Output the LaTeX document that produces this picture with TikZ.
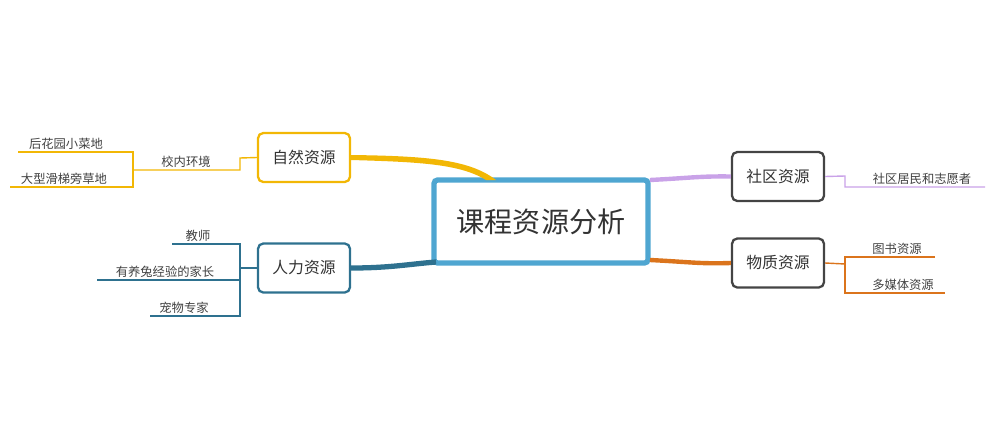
\documentclass[tikz,border=0pt]{standalone}
\usepackage{fontspec}
\usetikzlibrary{calc}
\setmainfont{Noto Sans CJK SC}
\begin{document}
\begin{tikzpicture}[x=0.02cm,y=-0.02cm]
\definecolor{cblue}{HTML}{4FA6D1}
\definecolor{cyel}{HTML}{F2B705}
\definecolor{cteal}{HTML}{2E718F}
\definecolor{cpur}{HTML}{C9A2E8}
\definecolor{corg}{HTML}{DB741C}
\definecolor{cgray}{HTML}{444444}
\tikzset{
 mainbox/.style={draw=cblue,line width=3pt,rounded corners=2pt,minimum width=214*0.02cm,minimum height=83*0.02cm,font=\fontsize{16}{18}\selectfont,text=black!80},
 subbox/.style={draw=#1,line width=1.3pt,rounded corners=3pt,minimum width=92*0.02cm,minimum height=49*0.02cm,font=\fontsize{9}{11}\selectfont,text=black!80},
 leaf/.style={font=\fontsize{7}{9}\selectfont,text=black!75,inner sep=1pt,anchor=south},
 ln/.style={draw=#1,line width=0.8pt}
}
\useasboundingbox (0,0) rectangle (1000,443);
\node[mainbox] (c) at (541,221.5) {课程资源分析};
\node[subbox=cyel] (n1) at (304,157.5) {自然资源};
\node[subbox=cteal] (n2) at (304,268) {人力资源};
\node[subbox=cgray] (n3) at (778,176.5) {社区资源};
\node[subbox=cgray] (n4) at (778,263) {物质资源};
% main connectors
\fill[cyel] ($(n1.east)+(0,-2.5)$) .. controls (430,156) and (470,160) .. (496,180) -- (486,180) .. controls (460,164) and (420,162) .. ($(n1.east)+(0,2.5)$) -- cycle;
\draw[cteal,line width=3pt] (n2.east) .. controls (390,268) and (410,264) .. (436,262);
\draw[cpur,line width=2.5pt] (650,180) .. controls (690,178) and (700,176) .. (n3.west);
\draw[corg,line width=2.5pt] (650,260) .. controls (690,262) and (700,264) .. (n4.west);
% natural
\coordinate (a1) at (240,158); \coordinate (a2) at (240,170); \coordinate (a3) at (133,170);
\draw[ln=cyel] (n1.west) -- (a1) -- (a2) -- (a3);
\node[leaf] (l1) at (186,170) {校内环境};
\coordinate (b1) at (133,152); \coordinate (b2) at (133,187);
\draw[ln=cyel] (18,152) -- (b1) -- (b2) -- (10,187);
\node[leaf] (l2) at (66,152) {后花园小菜地};
\node[leaf] (l3) at (64,187) {大型滑梯旁草地};
% human
\coordinate (h0) at (240,268); \coordinate (h1) at (240,244); \coordinate (h3) at (240,316);
\draw[ln=cteal] (n2.west) -- (h0);
\draw[ln=cteal] (172,244) -- (h1) -- (h3) -- (150,316);
\draw[ln=cteal] (97,280) -- (240,280);
\node[leaf] (l4) at (198,244) {教师};
\node[leaf] (l5) at (165,280) {有养兔经验的家长};
\node[leaf] (l6) at (184,316) {宠物专家};
% community
\coordinate (s1) at (845,176); \coordinate (s2) at (845,187);
\draw[ln=cpur] (n3.east) -- (s1) -- (s2) -- (985,187);
\node[leaf] (l7) at (922,187) {社区居民和志愿者};
% material
\coordinate (m0) at (845,264); \coordinate (m1) at (845,257); \coordinate (m2) at (845,293);
\draw[ln=corg] (n4.east) -- (m0);
\draw[ln=corg] (935,257) -- (m1) -- (m2) -- (945,293);
\node[leaf] (l8) at (897,257) {图书资源};
\node[leaf] (l9) at (903,293) {多媒体资源};
\end{tikzpicture}
\end{document}
